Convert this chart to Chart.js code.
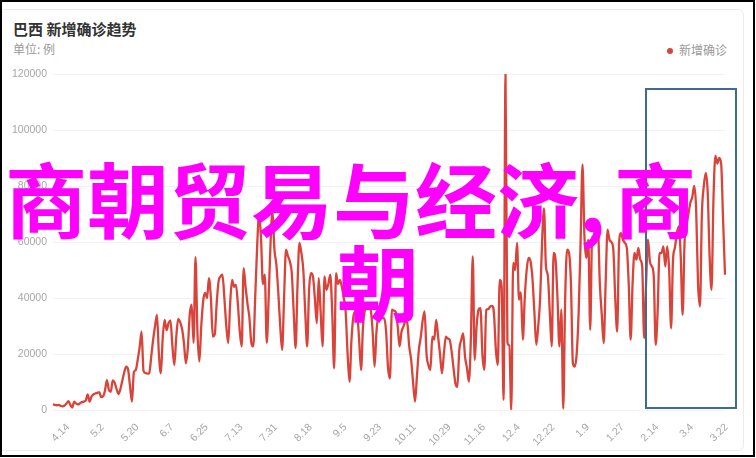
<!DOCTYPE html>
<html>
<head>
<meta charset="utf-8">
<script src="https://cdn.jsdelivr.net/npm/chart.js@4.4.1/dist/chart.umd.min.js"></script>
<style>
    html, body { margin: 0; padding: 0; background: #fff; }
    body { width: 756px; height: 458px; position: relative; overflow: hidden; font-family: "Noto Sans CJK SC", "Noto Sans", sans-serif; }
    #frame { position: absolute; left: 0; top: 0; width: 755px; height: 457px; box-sizing: border-box; border: 2px solid #000; z-index: 5; pointer-events: none; }
    #card { position: absolute; left: -2px; top: 9px; width: 746px; height: 442px; box-sizing: border-box; border: 1px solid #ececec; border-radius: 6px; }
    #title { position: absolute; left: 13px; top: 19px; font-size: 15px; font-weight: bold; color: #333; line-height: 20px; }
    #unit { position: absolute; left: 13px; top: 41px; font-size: 12px; color: #999; line-height: 16px; }
    #legend { position: absolute; left: 667px; top: 42px; font-size: 12px; color: #999; line-height: 16px; }
    #legend i { display: inline-block; width: 6px; height: 6px; border-radius: 50%; background: #d9433a; margin-right: 6px; vertical-align: 1px; }
    #chart { position: absolute; left: 0; top: 0; }
    #box { position: absolute; left: 645px; top: 88px; width: 92px; height: 321px; box-sizing: border-box; border: 2px solid #3d6a96; z-index: 3; }
    .big { position: absolute; font-family: "Noto Sans CJK SC", sans-serif; font-weight: bold; font-size: 82px; line-height: 82px; color: #ff00ff; white-space: nowrap; z-index: 4; }
</style>
</head>
<body>
<div id="frame"></div>
<div id="card"></div>
<div id="title">巴西 新增确诊趋势</div>
<div id="unit">单位: 例</div>
<div id="legend"><i></i>新增确诊</div>
<canvas id="chart" width="756" height="458"></canvas>
<div id="box"></div>
<div class="big" style="left:5px; top:156px;">商朝贸易与经济,</div>
<div class="big" style="left:614px; top:156px;">商</div>
<div class="big" style="left:337px; top:239px;">朝</div>
<script>
// daily new cases, first day 2020-04-14
var startDate = new Date(2020, 3, 14);
var cases = [
    2100, 1800, 1700, 1800, 1500, 1300, 1600, 2300, 3200, 1800,
    900, 3000, 2300, 2000, 2400, 2800, 3000, 3400, 5600, 3000,
    4800, 5600, 5900, 6100, 6400, 4600, 4900, 7000, 10700, 7200,
    6500, 10600, 9800, 7500, 5700, 7500, 10500, 13500, 15500, 14500,
    8500, 3000, 13500, 14300, 18000, 22400, 28000, 14000, 13200, 13000,
    13200, 19000, 25000, 30000, 34000, 20000, 13100, 26000, 32200, 28500,
    31000, 32000, 23000, 16100, 26000, 32500, 31500, 29000, 24000, 16700,
    22000, 34000, 37600, 24000, 54600, 28000, 17300, 30000, 39000, 41800,
    40000, 47100, 40000, 26200, 27000, 38000, 46000, 47700, 48300, 40000,
    30000, 23900, 38000, 46500, 44000, 44800, 38000, 28000, 22700, 50700,
    44000, 38000, 33000, 24000, 22700, 40000, 58000, 69800, 62000, 45000,
    48300, 24000, 40000, 60000, 71000, 57300, 52000, 42000, 30000, 21500,
    40000, 57300, 55000, 53000, 49000, 35000, 22100, 45000, 59700, 56000,
    50000, 35000, 22700, 43000, 48900, 47700, 40000, 31000, 47100, 35000,
    22700, 47700, 42900, 45000, 48300, 35000, 14900, 48900, 45000, 46500,
    44000, 40000, 35000, 20000, 10100, 25000, 33400, 35000, 34000, 25000,
    14300, 30000, 35800, 37000, 37500, 36000, 28000, 15500, 28000, 33400,
    32800, 32800, 32800, 28000, 15000, 11300, 35800, 35500, 35000, 30000,
    22700, 28000, 29800, 31600, 31000, 22700, 18000, 10000, 3000, 12000,
    21500, 26000, 32000, 35200, 20000, 16000, 14300, 26200, 25100, 32200,
    26200, 20000, 13100, 20000, 26200, 25500, 25100, 21000, 15000, 9500,
    8300, 21500, 25000, 27400, 19000, 15000, 10100, 25000, 54900, 17900,
    30000, 35800, 36400, 20000, 14300, 35800, 36000, 36900, 37200, 34600,
    21500, 16100, 46500, 44000, 3600, 119900, 24000, 23000, 0, 52500,
    50000, 59700, 39400, 42000, 25100, 40000, 50000, 54300, 53100, 47000,
    35000, 23300, 30000, 40000, 60000, 72000, 51300, 48000, 35000, 22700,
    56100, 53700, 40000, 22700, 35800, 500, 40000, 57300, 56100, 45000,
    16700, 15500, 20300, 35000, 60000, 87700, 62000, 54300, 60800, 28600,
    62000, 60800, 62000, 64400, 45000, 34000, 23900, 45000, 64400, 60800,
    60000, 57300, 40000, 28000, 59700, 63200, 60800, 59700, 57900, 45000,
    25100, 45000, 56100, 53700, 57900, 53700, 51300, 25700, 45000, 60800,
    53000, 51300, 47700, 23300, 35000, 56100, 56000, 58400, 51300, 58400,
    50000, 29200, 53700, 58000, 63200, 65600, 55000, 34000, 60000, 65600,
    70000, 74000, 76000, 80000, 72000, 45000, 37000, 70000, 80000, 84700,
    78000, 55000, 42900, 75000, 90800, 88000, 90000, 88000, 68000, 48300
];
// labels shown under the x axis
var tickLabels = ['4.14', '5.2', '5.20', '6.7', '6.25', '7.13', '7.31', '8.18', '9.5', '9.23',
    '10.11', '10.29', '11.16', '12.4', '12.22', '1.9', '1.27', '2.14', '3.4', '3.22'];
var yTicks = [0, 20000, 40000, 60000, 80000, 100000, 120000];

var days = [];
for (var i = 0; i < cases.length; i++) {
    var d = new Date(startDate.getFullYear(), startDate.getMonth(), startDate.getDate() + i);
    days.push((d.getMonth() + 1) + '.' + d.getDate());
}

var ctx = document.getElementById('chart');
var trendChart = new Chart(ctx, {
    type: 'line',
    data: {
        labels: days,
        datasets: [{
            label: '新增确诊',
            data: cases,
            borderColor: '#d9433a',
            backgroundColor: '#d9433a',
            borderWidth: 2.3,
            pointRadius: 0,
            cubicInterpolationMode: 'monotone',
            fill: false
        }]
    },
    options: {
        responsive: false,
        animation: false,
        layout: {
            padding: { left: 0, right: 31, top: 74, bottom: 0 }
        },
        plugins: {
            legend: { display: false },
            tooltip: { enabled: false }
        },
        scales: {
            x: {
                grid: { display: false },
                border: { display: false },
                afterFit: function(scale) { scale.height = 48; },
                ticks: {
                    autoSkip: false,
                    minRotation: 45,
                    maxRotation: 45,
                    padding: 3,
                    labelOffset: 15,
                    color: '#a6a6a6',
                    font: { size: 10.5, family: 'Liberation Sans, Arial, sans-serif' },
                    callback: function(value, index) {
                        var lab = days[index];
                        return tickLabels.indexOf(lab) >= 0 ? lab : null;
                    }
                }
            },
            y: {
                min: yTicks[0],
                max: yTicks[yTicks.length - 1],
                afterFit: function(scale) { scale.width = 53; },
                grid: { color: '#f2f2f2', drawTicks: false },
                border: { display: false },
                afterBuildTicks: function(scale) {
                    scale.ticks = yTicks.map(function(v) { return { value: v }; });
                },
                ticks: {
                    padding: 6,
                    color: '#a6a6a6',
                    font: { size: 10.5, family: 'Liberation Sans, Arial, sans-serif' },
                    callback: function(value) { return String(value); }
                }
            }
        }
    }
});
</script>
</body>
</html>
